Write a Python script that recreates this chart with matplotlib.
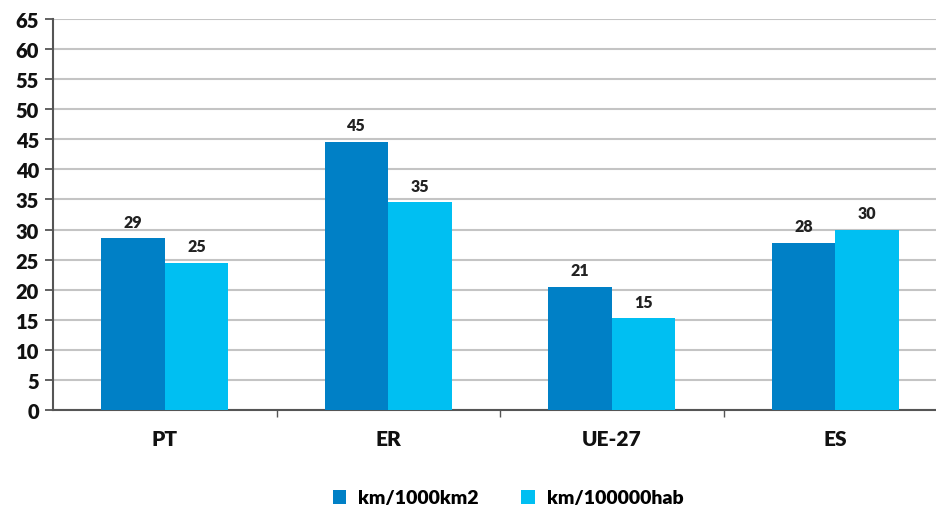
import matplotlib
matplotlib.use("Agg")
import matplotlib.pyplot as plt
import numpy as np

categories = ["PT", "ER", "UE-27", "ES"]
series_names = ["km/1000km2", "km/100000hab"]
km_area = [28.6, 44.6, 20.5, 27.8]
km_pop = [24.5, 34.6, 15.3, 30.0]
area_labels = ["29", "45", "21", "28"]
pop_labels = ["25", "35", "15", "30"]
y_ticks = list(range(0, 66, 5))

dark = "#0080c6"
light = "#00bff2"

plt.rcParams["font.family"] = ["Lato", "DejaVu Sans"]
plt.rcParams["font.weight"] = "heavy"

fig = plt.figure(figsize=(9.36, 5.10), dpi=100)
W, H = 936, 510
ax = fig.add_axes([53 / W, 99 / H, 894 / W, 391 / H])

x = np.arange(len(categories))
bw = 0.285
b1 = ax.bar(x - bw / 2, km_area, bw, color=dark, label=series_names[0], zorder=3)
b2 = ax.bar(x + bw / 2, km_pop, bw, color=light, label=series_names[1], zorder=3)

for bars, labs in ((b1, area_labels), (b2, pop_labels)):
    for r, lab in zip(bars, labs):
        ax.annotate(lab, (r.get_x() + r.get_width() / 2, r.get_height()),
                    xytext=(0, 6), textcoords="offset points",
                    ha="center", va="bottom", fontsize=11.5,
                    fontweight="heavy", color="#222222")

ax.set_xlim(-0.5, len(categories) - 0.5)
ax.set_ylim(0, 65)
ax.set_yticks(y_ticks)
ax.tick_params(axis="y", labelsize=14.5, length=6, width=1.3, color="#555555",
               pad=4, labelcolor="#111111")
ax.set_xticks(x)
ax.set_xticklabels(categories, fontsize=15, color="#111111")
ax.tick_params(axis="x", length=0, pad=14)
ax.set_xticks(np.arange(0.5, len(categories) - 0.5, 1.0), minor=True)
ax.tick_params(axis="x", which="minor", length=5, width=1, color="#555555")

ax.yaxis.grid(True, color="#c4c4c4", linewidth=1.5, zorder=0)
ax.set_axisbelow(True)
for s in ("top", "right"):
    ax.spines[s].set_visible(False)
for s in ("left", "bottom"):
    ax.spines[s].set_color("#555555")
    ax.spines[s].set_linewidth(1.5)

fig.legend(handles=[b1, b2], labels=series_names, loc="center",
           bbox_to_anchor=(508 / W, 1 - 499 / H), ncol=2, frameon=False,
           fontsize=14, handlelength=0.7, handleheight=0.7,
           handletextpad=0.6, columnspacing=2.2)

fig.savefig("out.png", dpi=100)
